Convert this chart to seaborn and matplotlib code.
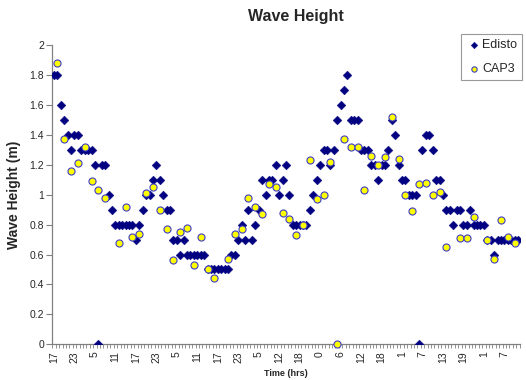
import numpy as np
import pandas as pd
import matplotlib
matplotlib.use("Agg")
import matplotlib.pyplot as plt
import seaborn as sns

# ---- data ----
tick_labels = ["17", "23", "5", "11", "17", "23", "5", "11", "17", "23", "5", "12",
               "18", "0", "6", "12", "18", "1", "7", "13", "19", "1", "7"]

edisto = [1.8, 1.8, 1.6, 1.5, 1.4, 1.3, 1.4, 1.4, 1.3, 1.3, 1.3, 1.3, 1.2, 0.0, 1.2, 1.2,
          1.0, 0.9, 0.8, 0.8, 0.8, 0.8, 0.8, 0.8, 0.7, 0.8, 0.9, 1.0, 1.0, 1.1, 1.2, 1.1,
          1.0, 0.9, 0.9, 0.7, 0.7, 0.6, 0.7, 0.6, 0.6, 0.6, 0.6, 0.6, 0.6, 0.5, 0.5, 0.5,
          0.5, 0.5, 0.5, 0.5, 0.6, 0.6, 0.7, 0.8, 0.7, 0.9, 0.7, 0.8, 0.9, 1.1, 1.0, 1.1,
          1.1, 1.2, 1.0, 1.1, 1.2, 1.0, 0.8, 0.8, 0.8, 0.8, 0.8, 0.9, 1.0, 1.1, 1.2, 1.3,
          1.3, 1.2, 1.3, 1.5, 1.6, 1.7, 1.8, 1.5, 1.5, 1.5, 1.3, 1.3, 1.3, 1.2, 1.2, 1.1,
          1.2, 1.2, 1.3, 1.5, 1.4, 1.2, 1.1, 1.1, 1.0, 1.0, 1.0, 0.0, 1.3, 1.4, 1.4, 1.3,
          1.1, 1.1, 1.0, 0.9, 0.9, 0.8, 0.9, 0.9, 0.8, 0.8, 0.9, 0.8, 0.8, 0.8, 0.8, 0.7,
          0.7, 0.6, 0.7, 0.7, 0.7, 0.7, 0.7, 0.7, 0.7]

# CAP3 is recorded every second hour (odd category positions)
cap3 = [1.88, 1.37, 1.16, 1.21, 1.32, 1.09, 1.03, 0.98, None, 0.68, 0.92, 0.72, 0.74,
        1.01, 1.05, 0.90, 0.77, 0.56, 0.75, 0.78, 0.53, 0.72, 0.50, 0.44, None, 0.57,
        0.74, 0.77, 0.98, 0.92, 0.87, 1.07, 1.05, 0.88, 0.84, 0.73, 0.80, 1.23, 0.97,
        1.00, 1.22, 0.00, 1.37, 1.32, 1.32, 1.03, 1.26, 1.20, 1.25, 1.52, 1.24, 1.00,
        0.89, 1.07, 1.08, 1.00, 1.02, 0.65, None, 0.71, 0.71, 0.85, None, 0.70, 0.57,
        0.83, 0.72, 0.68]

n = len(edisto)
df_e = pd.DataFrame({"idx": np.arange(n), "h": edisto})
df_c = pd.DataFrame({"idx": np.arange(1, n, 2)[:len(cap3)],
                     "h": pd.array(cap3, dtype="Float64")}).dropna()
df_c["h"] = df_c["h"].astype(float)

sns.set_theme(style="white")
plt.rcParams["font.family"] = ["Liberation Sans", "DejaVu Sans"]

W, H = 526, 380
fig = plt.figure(figsize=(W / 100, H / 100), dpi=100)
x0, x1, y0, y1 = 52.3, 519.7, 45.0, 344.3
ax = fig.add_axes([x0 / W, 1 - y1 / H, (x1 - x0) / W, (y1 - y0) / H])

sns.scatterplot(data=df_e, x="idx", y="h", marker="D", s=20, color="#000080",
                edgecolor="#000080", linewidth=0.3, label="Edisto", ax=ax, zorder=3)
sns.scatterplot(data=df_c, x="idx", y="h", marker="o", s=26, color="#FFFF00",
                edgecolor="#3c3cc8", linewidth=0.8, label="CAP3", ax=ax, zorder=4,
                clip_on=False)

ax.set_xlim(-0.5, n - 0.5)
ax.set_ylim(0, 2)

gray = "#808080"
for s in ["top", "right"]:
    ax.spines[s].set_visible(False)
for s in ["left", "bottom"]:
    ax.spines[s].set_color(gray)
    ax.spines[s].set_linewidth(0.9)

ax.set_yticks(np.arange(0, 2.01, 0.2))
ax.set_yticklabels([f"{v:g}" for v in np.arange(0, 2.01, 0.2).round(1)])
ax.tick_params(axis="y", which="major", length=4, width=0.8, color=gray,
               direction="out", labelsize=7.5, pad=2, left=True)

ax.set_xticks(np.arange(0, 6 * len(tick_labels), 6))
ax.set_xticklabels(tick_labels, rotation=90, ha="center", va="top")
ax.set_xticks(np.arange(-0.5, n, 1), minor=True)
ax.tick_params(axis="x", which="major", length=0, labelsize=7.5, pad=5, bottom=True)
ax.tick_params(axis="x", which="minor", length=3, width=0.6, color=gray,
               direction="out", bottom=True)

ax.set_xlabel("Time (hrs)", fontsize=6.5, fontweight="bold", labelpad=4)
ax.set_ylabel("Wave Height (m)", fontsize=10, fontweight="bold", labelpad=6)
fig.text(296 / W, 1 - 17 / H, "Wave Height", fontsize=11.5, fontweight="bold",
         ha="center", va="center")

leg = ax.legend(loc="upper left", bbox_to_anchor=(461 / W, 1 - 34 / H),
                bbox_transform=fig.transFigure, frameon=True, fancybox=False,
                fontsize=9, handletextpad=0.0, borderpad=0.4, labelspacing=0.95,
                handlelength=1.3, borderaxespad=0, markerscale=0.75)
leg.get_frame().set_edgecolor(gray)
leg.get_frame().set_linewidth(0.8)

fig.savefig("out.png", dpi=100, facecolor="white")
